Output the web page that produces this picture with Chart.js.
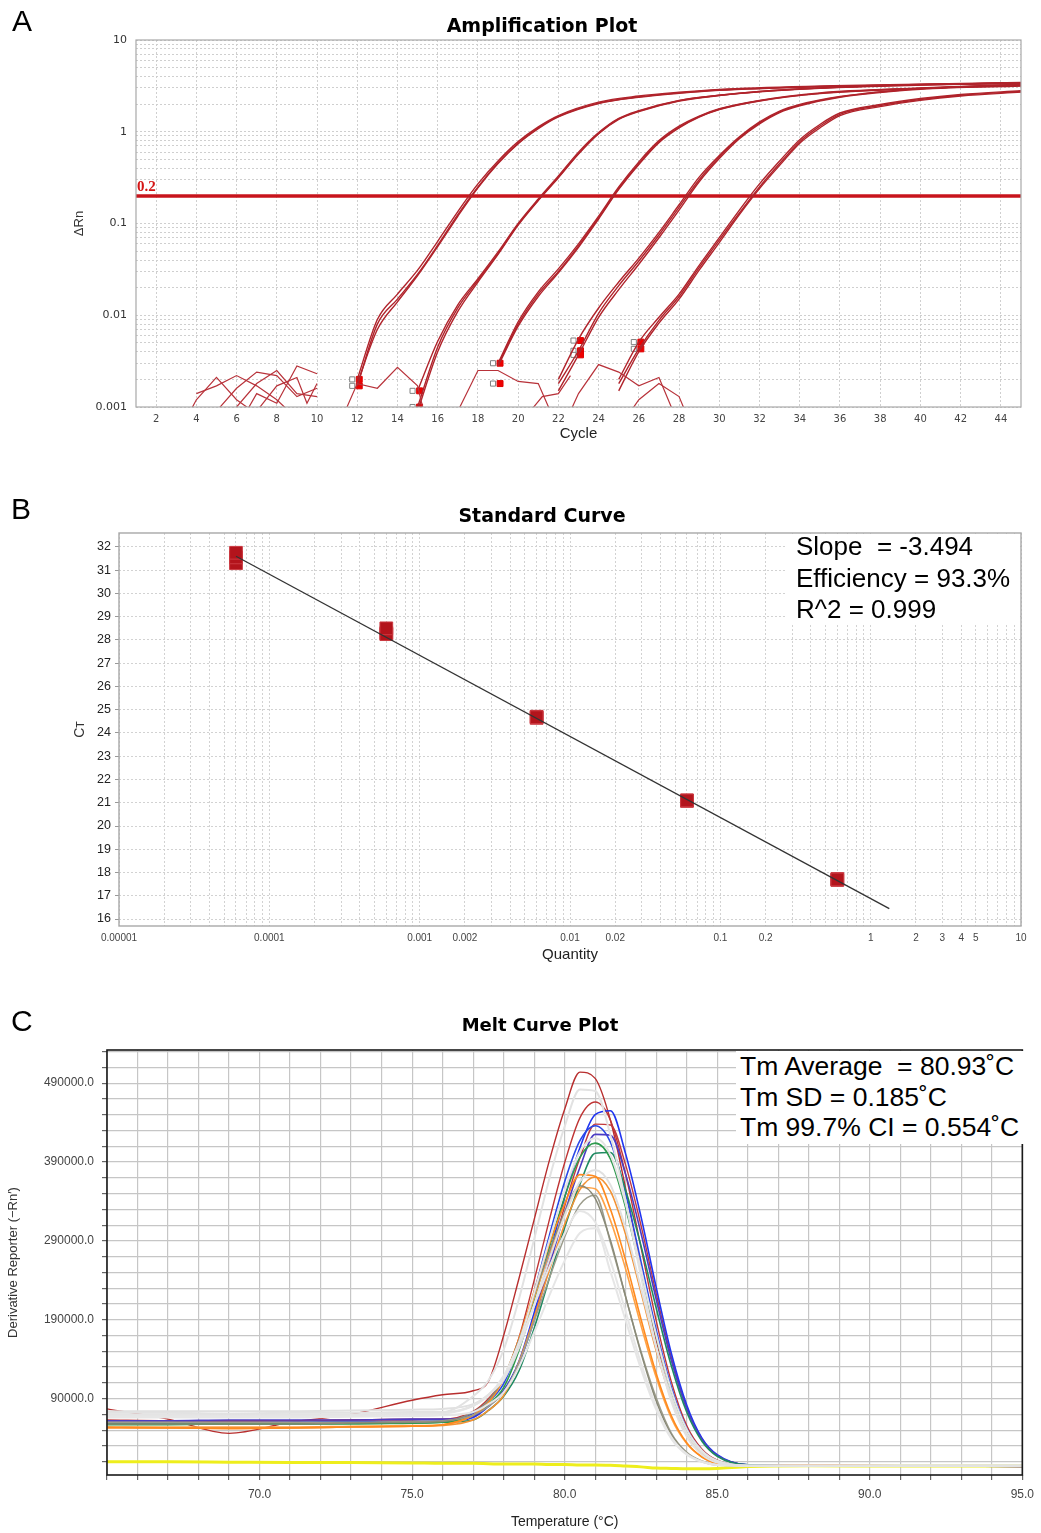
<!DOCTYPE html>
<html>
<head>
<meta charset="utf-8">
<script src="https://cdn.jsdelivr.net/npm/chart.js@4.4.1/dist/chart.umd.min.js"></script>
<style>
  html, body { margin: 0; padding: 0; background: #fff; }
  body { width: 1041px; height: 1533px; position: relative; overflow: hidden; font-family: "Liberation Sans", Arial, sans-serif; }
  canvas { position: absolute; left: 0; }
  .abs { position: absolute; z-index: 2; }
  .letter { font-size: 30px; line-height: 30px; color: #000; }
  .title { font-family: "DejaVu Sans", Verdana, sans-serif; font-weight: bold; font-size: 19px; line-height: 22px; width: 400px; text-align: center; color: #000; }
  .box { background: #fff; }
  .stats { white-space: pre; color: #000; }
</style>
</head>
<body>
<canvas id="ampCanvas" width="1041" height="450" style="top:0"></canvas>
<canvas id="stdCanvas" width="1041" height="500" style="top:470px"></canvas>
<canvas id="meltCanvas" width="1041" height="543" style="top:990px"></canvas>

<div class="abs letter" style="left:12px; top:6px">A</div>
<div class="abs letter" style="left:11px; top:494px">B</div>
<div class="abs letter" style="left:11px; top:1006px">C</div>

<div class="abs title" style="left:342px; top:14px">Amplification Plot</div>
<div class="abs title" style="left:342px; top:504px">Standard Curve</div>
<div class="abs title" style="left:340px; top:1014px; font-size:18px">Melt Curve Plot</div>

<div class="abs box" style="left:787px; top:534px; width:233px; height:89px"></div>
<div class="abs stats" style="left:796px; top:531px; font-size:26px; line-height:31.5px">Slope  = -3.494
Efficiency = 93.3%
R^2 = 0.999</div>

<div class="abs box" style="left:736px; top:1051px; width:291px; height:93px"></div>
<div class="abs stats" style="left:740px; top:1051px; font-size:26.5px; line-height:30.6px">Tm Average  = 80.93˚C
Tm SD = 0.185˚C
Tm 99.7% CI = 0.554˚C</div>

<script>
// ---------- A: amplification plot ----------
const threshold = 0.2;
const ampYLabels = [0.001, 0.01, 0.1, 1, 10];
const cycleTicks = [2, 4, 6, 8, 10, 12, 14, 16, 18, 20, 22, 24, 26, 28, 30, 32, 34, 36, 38, 40, 42, 44];

const cyclesG1 = [12, 13, 14, 15, 16, 17, 18, 19, 20, 21, 22, 24, 26, 28, 30, 35, 40, 45];
const dRnG1a = [0.0020, 0.0090, 0.017, 0.031, 0.064, 0.135, 0.27, 0.48, 0.78, 1.13, 1.5, 2.1, 2.45, 2.7, 2.9, 3.15, 3.3, 3.45];
const dRnG1b = [0.0017, 0.0080, 0.015, 0.028, 0.058, 0.125, 0.25, 0.46, 0.75, 1.1, 1.47, 2.05, 2.4, 2.65, 2.85, 3.1, 3.28, 3.4];
const dRnG1c = [0.0018, 0.0070, 0.014, 0.027, 0.056, 0.12, 0.245, 0.45, 0.74, 1.08, 1.45, 2.03, 2.38, 2.63, 2.83, 3.1, 3.27, 3.4];

const cyclesG2 = [15, 16, 17, 18, 19, 20, 21, 22, 23, 24, 25, 26, 28, 30, 32, 35, 40, 45];
const dRnG2a = [0.0015, 0.0052, 0.013, 0.025, 0.049, 0.10, 0.185, 0.33, 0.60, 0.98, 1.4, 1.7, 2.2, 2.5, 2.75, 3.0, 3.25, 3.4];
const dRnG2b = [0.0010, 0.0045, 0.012, 0.024, 0.047, 0.098, 0.18, 0.32, 0.58, 0.96, 1.38, 1.68, 2.18, 2.5, 2.75, 3.0, 3.25, 3.4];
const dRnG2c = [0.0009, 0.0040, 0.011, 0.023, 0.046, 0.096, 0.178, 0.315, 0.57, 0.95, 1.36, 1.66, 2.16, 2.48, 2.72, 2.98, 3.22, 3.38];

const cyclesG3 = [19, 20, 21, 22, 23, 24, 25, 26, 27, 28, 29, 30, 32, 35, 40, 45];
const dRnG3a = [0.0030, 0.0085, 0.018, 0.032, 0.060, 0.12, 0.25, 0.47, 0.80, 1.15, 1.48, 1.78, 2.2, 2.65, 3.0, 3.3];
const dRnG3b = [0.0029, 0.0080, 0.017, 0.030, 0.057, 0.115, 0.24, 0.45, 0.78, 1.12, 1.46, 1.76, 2.18, 2.62, 2.98, 3.28];
const dRnG3c = [0.0028, 0.0076, 0.016, 0.029, 0.055, 0.112, 0.235, 0.44, 0.76, 1.1, 1.44, 1.74, 2.16, 2.6, 2.96, 3.26];

const cyclesG4 = [22, 23, 24, 25, 26, 27, 28, 29, 30, 31, 32, 33, 34, 36, 40, 45];
const dRnG4a = [0.0020, 0.0055, 0.012, 0.023, 0.042, 0.08, 0.16, 0.32, 0.55, 0.88, 1.28, 1.68, 1.98, 2.42, 2.95, 3.2];
const dRnG4b = [0.0018, 0.0041, 0.0105, 0.021, 0.039, 0.075, 0.15, 0.30, 0.53, 0.86, 1.25, 1.65, 1.95, 2.4, 2.93, 3.18];
const dRnG4c = [0.0015, 0.0037, 0.0095, 0.019, 0.036, 0.07, 0.14, 0.285, 0.51, 0.84, 1.22, 1.62, 1.92, 2.38, 2.9, 3.15];

const cyclesG5 = [25, 26, 27, 28, 29, 30, 31, 32, 33, 34, 35, 36, 38, 40, 42, 45];
const dRnG5a = [0.0020, 0.0051, 0.0095, 0.017, 0.035, 0.07, 0.14, 0.27, 0.48, 0.82, 1.2, 1.6, 1.98, 2.3, 2.55, 2.8];
const dRnG5b = [0.0018, 0.0043, 0.0088, 0.016, 0.033, 0.066, 0.13, 0.25, 0.45, 0.78, 1.15, 1.55, 1.93, 2.25, 2.5, 2.75];
const dRnG5c = [0.0015, 0.0040, 0.0082, 0.015, 0.031, 0.062, 0.125, 0.24, 0.43, 0.75, 1.1, 1.5, 1.88, 2.2, 2.45, 2.7];

// baseline-end markers
const markCycles = [12.1, 12.1, 15.1, 15.1, 19.1, 19.1, 23.1, 23.1, 23.1, 26.1, 26.1];
const markValues = [0.0020, 0.0017, 0.0015, 0.0010, 0.0030, 0.0018, 0.0053, 0.0041, 0.0037, 0.0051, 0.0043];

// background noise below the baseline
const noiseLines = [
  [[3.7, 0.0009], [4, 0.0012], [5, 0.0021], [6, 0.0012], [6.8, 0.0009]],
  [[4, 0.0014], [5, 0.0017], [6, 0.0022], [7, 0.0017], [8, 0.0012], [8.6, 0.0009]],
  [[5, 0.0009], [6, 0.0016], [7, 0.0024], [8, 0.0022], [9, 0.0013], [10, 0.0016]],
  [[6, 0.0010], [7, 0.0018], [8, 0.0025], [9, 0.0014], [10, 0.0013]],
  [[6.5, 0.0009], [7, 0.0014], [8, 0.0011], [9, 0.0028], [10, 0.0023]],
  [[7, 0.0009], [8, 0.0017], [9, 0.0021], [9.5, 0.0011], [10, 0.0018]],
  [[11.4, 0.0009], [12, 0.0018], [13, 0.0016], [14, 0.0027], [15, 0.0017], [15.3, 0.0009]],
  [[17, 0.0009], [18, 0.0025], [19, 0.0025], [20, 0.0019], [21, 0.0018], [21.6, 0.0009]],
  [[20.6, 0.0009], [21.2, 0.0013], [22, 0.0014], [22.6, 0.0022]],
  [[22.6, 0.0009], [23, 0.0014], [24, 0.0029], [25, 0.0024], [26, 0.0017], [27, 0.0021], [27.7, 0.0009]],
  [[25.6, 0.0009], [26, 0.0012], [27, 0.0018], [28, 0.0013], [28.3, 0.0009]]
];

// ---------- B: standard curve ----------
const qtyLabels = [0.00001, 0.0001, 0.001, 0.002, 0.01, 0.02, 0.1, 0.2, 1, 2, 3, 4, 5, 10];
const stdQty = [0.00006, 0.0006, 0.006, 0.06, 0.6];
const ctRep1 = [31.75, 28.5, 24.68, 21.1, 17.7];
const ctRep2 = [31.55, 28.25, 24.65, 21.08, 17.72];
const ctRep3 = [31.3, 28.3, 24.7, 21.1, 17.68];
const fitQty = [0.00006, 1.33];
const fitCt = [31.6, 16.45];

// ---------- C: melt curve ----------
const meltXLabels = [70, 75, 80, 85, 90, 95];
const meltYLabels = [90000, 190000, 290000, 390000, 490000];
const meltTemps = [65, 67, 69, 71, 73, 75, 76, 77, 77.5, 78, 78.5, 79, 79.5, 80, 80.5, 81, 81.5, 82, 82.5, 83, 83.5, 84, 84.5, 85, 86, 88, 91, 95];

const meltRedA = [77000, 64000, 46000, 60000, 70000, 88000, 95000, 100000, 112000, 170000, 242000, 317000, 392000, 457000, 504000, 496000, 443000, 356000, 256000, 163000, 90000, 44000, 20000, 9000, 5000, 6000, 5000, 4000];
const meltRedB = [62000, 62000, 61000, 62000, 63000, 64000, 64000, 74000, 90000, 115000, 167000, 240000, 317000, 389000, 446000, 466000, 443000, 374000, 282000, 189000, 111000, 56000, 26000, 12000, 5000, 5000, 5000, 5000];
const meltRedC = [63000, 62000, 62000, 62000, 63000, 63000, 64000, 68000, 81000, 100000, 136000, 194000, 264000, 334000, 395000, 438000, 437000, 386000, 310000, 223000, 142000, 79000, 39000, 18000, 6000, 5000, 5000, 5000];
const meltBlueA = [59000, 59000, 59000, 60000, 60000, 61000, 61000, 66000, 80000, 100000, 137000, 199000, 272000, 345000, 408000, 450000, 455000, 400000, 321000, 231000, 147000, 82000, 40000, 19000, 6000, 5000, 5000, 4000];
const meltBlueB = [60000, 60000, 60000, 60000, 61000, 61000, 62000, 71000, 86000, 109000, 158000, 225000, 297000, 365000, 417000, 436000, 415000, 350000, 264000, 177000, 104000, 52000, 24000, 11000, 5000, 5000, 5000, 5000];
const meltBlueC = [62000, 62000, 63000, 63000, 63000, 64000, 64000, 68000, 81000, 99000, 134000, 190000, 258000, 325000, 383000, 425000, 424000, 374000, 300000, 216000, 138000, 77000, 38000, 18000, 6000, 5000, 5000, 5000];
const meltGreenA = [57000, 57000, 58000, 58000, 58000, 59000, 60000, 69000, 83000, 104000, 151000, 215000, 282000, 346000, 396000, 414000, 394000, 332000, 250000, 169000, 99000, 50000, 23000, 11000, 5000, 5000, 5000, 5000];
const meltGreenB = [58000, 58000, 58000, 58000, 59000, 59000, 60000, 63000, 75000, 93000, 125000, 179000, 243000, 307000, 362000, 401000, 402000, 354000, 284000, 205000, 131000, 73000, 36000, 17000, 6000, 5000, 5000, 5000];
const meltOrangeA = [53000, 53000, 52000, 53000, 54000, 55000, 57000, 69000, 85000, 116000, 166000, 226000, 286000, 337000, 374000, 372000, 330000, 265000, 191000, 122000, 68000, 34000, 16000, 8000, 5000, 6000, 5000, 5000];
const meltOrangeB = [54000, 53000, 53000, 53000, 54000, 55000, 56000, 63000, 75000, 94000, 136000, 193000, 253000, 311000, 355000, 371000, 353000, 298000, 225000, 151000, 89000, 45000, 21000, 10000, 5000, 5000, 5000, 5000];
const meltOrangeC = [54000, 54000, 54000, 54000, 55000, 56000, 57000, 69000, 85000, 114000, 161000, 218000, 274000, 323000, 358000, 356000, 316000, 254000, 183000, 117000, 65000, 33000, 16000, 8000, 5000, 5000, 5000, 5000];
const meltOliveA = [58000, 58000, 58000, 58000, 59000, 60000, 61000, 73000, 88000, 117000, 164000, 221000, 277000, 326000, 360000, 344000, 291000, 219000, 148000, 87000, 44000, 21000, 10000, 6000, 5000, 5000, 5000, 5000];
const meltOliveB = [60000, 60000, 60000, 60000, 60000, 61000, 62000, 69000, 80000, 98000, 135000, 188000, 243000, 295000, 336000, 348000, 288000, 219000, 150000, 91000, 46000, 22000, 11000, 6000, 5000, 5000, 5000, 5000];
const meltGray1 = [72000, 72000, 71000, 72000, 72000, 73000, 73000, 93000, 113000, 152000, 216000, 292000, 369000, 435000, 482000, 480000, 424000, 340000, 245000, 156000, 86000, 42000, 19000, 9000, 5000, 5000, 5000, 5000];
const meltGray2 = [70000, 70000, 70000, 70000, 70000, 71000, 72000, 81000, 95000, 116000, 161000, 224000, 291000, 354000, 403000, 420000, 399000, 337000, 254000, 171000, 100000, 51000, 24000, 11000, 5000, 5000, 5000, 5000];
const meltGray3 = [68000, 68000, 68000, 68000, 69000, 70000, 71000, 81000, 94000, 119000, 160000, 208000, 257000, 299000, 328000, 314000, 265000, 200000, 135000, 80000, 41000, 20000, 10000, 6000, 5000, 5000, 5000, 5000];
const meltGray4 = [66000, 66000, 66000, 66000, 67000, 68000, 69000, 73000, 83000, 98000, 130000, 174000, 221000, 265000, 300000, 306000, 251000, 189000, 128000, 76000, 39000, 19000, 10000, 6000, 5000, 5000, 5000, 5000];
const meltGray5 = [74000, 74000, 74000, 74000, 75000, 76000, 77000, 83000, 95000, 114000, 154000, 209000, 267000, 322000, 365000, 380000, 361000, 305000, 230000, 155000, 91000, 46000, 22000, 11000, 5000, 5000, 5000, 5000];
const meltNtc = [10000, 10000, 9500, 9000, 9000, 8500, 8000, 8000, 7500, 7000, 7000, 7000, 6500, 6500, 6000, 6000, 5500, 4500, 3500, 2000, 1500, 1000, 1000, 1500, 4000, 5000, 4500, 4500];

Chart.defaults.font.family = '"Liberation Sans", Arial, sans-serif';
Chart.defaults.color = '#333';
Chart.defaults.animation = false;

// draws the box around the plot area
const framePlugin = {
  id: 'frame',
  afterDraw(chart, args, opts) {
    const { ctx, chartArea: a } = chart;
    ctx.save();
    ctx.strokeStyle = opts.color;
    ctx.lineWidth = opts.width;
    ctx.strokeRect(a.left, a.top, a.right - a.left, a.bottom - a.top);
    ctx.restore();
  }
};

const thresholdLabel = {
  id: 'thresholdLabel',
  afterDatasetsDraw(chart) {
    const { ctx, chartArea, scales } = chart;
    const y = scales.y.getPixelForValue(threshold);
    ctx.save();
    ctx.fillStyle = '#d41515';
    ctx.font = 'bold 15px "Liberation Serif", serif';
    ctx.textBaseline = 'bottom';
    ctx.fillText(String(threshold), chartArea.left + 1, y - 1);
    ctx.restore();
  }
};

function pts(xs, ys) {
  return xs.map((x, i) => ({ x: x, y: ys[i] }));
}

// ----- chart A -----
const ampCurveColor = '#b0232b';
const ampDatasets = [];
noiseLines.forEach(line => {
  ampDatasets.push({
    data: line.map(p => ({ x: p[0], y: p[1] })),
    borderColor: '#b8323a', borderWidth: 1.2, pointRadius: 0, tension: 0
  });
});
[
  [cyclesG1, dRnG1a], [cyclesG1, dRnG1b], [cyclesG1, dRnG1c],
  [cyclesG2, dRnG2a], [cyclesG2, dRnG2b], [cyclesG2, dRnG2c],
  [cyclesG3, dRnG3a], [cyclesG3, dRnG3b], [cyclesG3, dRnG3c],
  [cyclesG4, dRnG4a], [cyclesG4, dRnG4b], [cyclesG4, dRnG4c],
  [cyclesG5, dRnG5a], [cyclesG5, dRnG5b], [cyclesG5, dRnG5c]
].forEach(c => {
  ampDatasets.push({
    data: pts(c[0], c[1]),
    borderColor: ampCurveColor, borderWidth: 1.4, pointRadius: 0,
    cubicInterpolationMode: 'monotone'
  });
});
ampDatasets.push({
  data: [{ x: 1, y: threshold }, { x: 45, y: threshold }],
  borderColor: '#c8141c', borderWidth: 3.5, pointRadius: 0
});
ampDatasets.push({
  data: pts(markCycles.map(c => c - 0.35), markValues),
  showLine: false, pointStyle: 'rect', pointRadius: 3.6,
  pointBackgroundColor: '#ffffff', pointBorderColor: '#808080', pointBorderWidth: 1
});
ampDatasets.push({
  data: pts(markCycles, markValues),
  showLine: false, pointStyle: 'rect', pointRadius: 4.2,
  pointBackgroundColor: '#ee0000', pointBorderColor: '#e00000', pointBorderWidth: 1
});

new Chart(document.getElementById('ampCanvas'), {
  type: 'line',
  data: { datasets: ampDatasets },
  options: {
    responsive: false,
    layout: { padding: { left: 60, right: 20, top: 40, bottom: 0 } },
    plugins: {
      legend: { display: false }, tooltip: { enabled: false }, title: { display: false },
      frame: { color: '#a8a8a8', width: 1.2 }
    },
    scales: {
      x: {
        type: 'linear', min: 1, max: 45,
        afterBuildTicks: s => { s.ticks = cycleTicks.map(v => ({ value: v })); },
        afterFit: s => { s.height = 43; },
        grid: { color: '#cfcfcf', lineWidth: 1, drawTicks: false },
        border: { display: false, dash: [2, 2] },
        ticks: { padding: 6, autoSkip: false, maxRotation: 0, color: '#444',
                 font: { family: '"DejaVu Sans", Verdana, sans-serif', size: 10 } },
        title: { display: true, text: 'Cycle', color: '#222', font: { size: 15 }, padding: { top: 0, bottom: 7 } }
      },
      y: {
        type: 'logarithmic', min: 0.001, max: 10,
        afterBuildTicks: s => {
          const t = [];
          for (let k = -3; k <= 0; k++) {
            for (let m = 1; m <= 9; m++) t.push(Number((m * Math.pow(10, k)).toPrecision(3)));
          }
          t.push(10);
          s.ticks = t.map(v => ({ value: v }));
        },
        afterFit: s => { s.width = 76; },
        grid: { color: '#cfcfcf', lineWidth: 1, drawTicks: false },
        border: { display: false, dash: [2, 2] },
        ticks: { padding: 9, autoSkip: false, color: '#333',
                 font: { family: '"DejaVu Sans", Verdana, sans-serif', size: 11 },
                 callback: v => ampYLabels.includes(v) ? String(v) : '' },
        title: { display: true, text: 'ΔRn', color: '#333', font: { size: 13 }, padding: { top: 12, bottom: 0 } }
      }
    }
  },
  plugins: [framePlugin, thresholdLabel]
});

// ----- chart B -----
new Chart(document.getElementById('stdCanvas'), {
  type: 'line',
  data: {
    datasets: [
      { data: pts(fitQty, fitCt), borderColor: '#333333', borderWidth: 1.3, pointRadius: 0 },
      { data: pts(stdQty, ctRep1), showLine: false, pointStyle: 'rect', pointRadius: 9,
        pointBackgroundColor: '#b3141c', pointBorderColor: '#cc3a42', pointBorderWidth: 1 },
      { data: pts(stdQty, ctRep2), showLine: false, pointStyle: 'rect', pointRadius: 9,
        pointBackgroundColor: '#b3141c', pointBorderColor: '#cc3a42', pointBorderWidth: 1 },
      { data: pts(stdQty, ctRep3), showLine: false, pointStyle: 'rect', pointRadius: 9,
        pointBackgroundColor: '#b3141c', pointBorderColor: '#cc3a42', pointBorderWidth: 1 }
    ]
  },
  options: {
    responsive: false,
    layout: { padding: { left: 60, right: 20, top: 63, bottom: 0 } },
    plugins: {
      legend: { display: false }, tooltip: { enabled: false }, title: { display: false },
      frame: { color: '#a8a8a8', width: 1.4 }
    },
    scales: {
      x: {
        type: 'logarithmic', min: 0.00001, max: 10,
        afterBuildTicks: s => {
          const t = [];
          for (let k = -5; k <= 0; k++) {
            for (let m = 1; m <= 9; m++) t.push(Number((m * Math.pow(10, k)).toPrecision(3)));
          }
          t.push(10);
          s.ticks = t.map(v => ({ value: v }));
        },
        afterFit: s => { s.height = 44; },
        grid: { color: '#d2d2d2', lineWidth: 1, drawTicks: false },
        border: { display: false, dash: [2, 2] },
        ticks: { padding: 6, autoSkip: false, maxRotation: 0, color: '#444', font: { size: 10 },
                 callback: v => qtyLabels.includes(v) ? String(v) : '' },
        title: { display: true, text: 'Quantity', color: '#222', font: { size: 15 }, padding: { top: 0, bottom: 6 } }
      },
      y: {
        type: 'linear', min: 15.7, max: 32.6,
        afterBuildTicks: s => {
          const t = [];
          for (let v = 16; v <= 32; v++) t.push(v);
          s.ticks = t.map(v => ({ value: v }));
        },
        afterFit: s => { s.width = 59; },
        grid: { color: '#d2d2d2', lineWidth: 1, drawTicks: true, tickLength: 4, tickColor: '#999' },
        border: { display: false, dash: [2, 2] },
        ticks: { padding: 4, autoSkip: false, color: '#222', font: { size: 12.5 } },
        title: { display: true, text: 'Cᴛ', color: '#333', font: { size: 14 }, padding: { top: 12, bottom: 0 } }
      }
    }
  },
  plugins: [framePlugin]
});

// ----- chart C -----
const meltSeries = [
  [meltGray1, '#e2e2e2', 2], [meltGray2, '#e4e4e4', 2], [meltGray3, '#e6e6e6', 2],
  [meltGray4, '#e6e6e6', 2], [meltGray5, '#e0e0e0', 2],
  [meltOliveA, '#8a8a78', 1.5], [meltOliveB, '#9c9c8c', 1.5],
  [meltOrangeA, '#ff8a1e', 1.6], [meltOrangeB, '#f39234', 1.6], [meltOrangeC, '#ffa347', 1.6],
  [meltGreenA, '#2e9a4e', 1.6], [meltGreenB, '#1f8a62', 1.6],
  [meltBlueC, '#4b3cc4', 1.6], [meltBlueB, '#2a48e6', 1.6], [meltBlueA, '#2035f0', 1.6],
  [meltRedC, '#c2393d', 1.4], [meltRedB, '#bf3434', 1.4], [meltRedA, '#b82e2e', 1.4],
  [meltNtc, '#eeee1c', 3]
];

new Chart(document.getElementById('meltCanvas'), {
  type: 'line',
  data: {
    datasets: meltSeries.map(s => ({
      data: pts(meltTemps, s[0]), borderColor: s[1], borderWidth: s[2],
      pointRadius: 0, cubicInterpolationMode: 'monotone'
    }))
  },
  options: {
    responsive: false,
    layout: { padding: { left: 0, right: 13, top: 60, bottom: 0 } },
    plugins: {
      legend: { display: false }, tooltip: { enabled: false }, title: { display: false },
      frame: { color: '#1a1a1a', width: 1.6 }
    },
    scales: {
      x: {
        type: 'linear', min: 65, max: 95,
        afterBuildTicks: s => {
          const t = [];
          for (let v = 65; v <= 95; v++) t.push(v);
          s.ticks = t.map(v => ({ value: v }));
        },
        afterFit: s => { s.height = 58; },
        grid: { color: '#c6c6c6', lineWidth: 1.2, tickLength: 5, tickColor: '#666' },
        border: { display: false },
        ticks: { padding: 7, autoSkip: false, maxRotation: 0, color: '#444', font: { size: 12 },
                 callback: v => meltXLabels.includes(v) ? v.toFixed(1) : '' },
        title: { display: true, text: 'Temperature (°C)', color: '#222', font: { size: 14 }, padding: { top: 0, bottom: 2 } }
      },
      y: {
        type: 'linear', min: -6800, max: 532000,
        afterBuildTicks: s => {
          const t = [];
          for (let v = 10000; v <= 530000; v += 20000) t.push(v);
          s.ticks = t.map(v => ({ value: v }));
        },
        afterFit: s => { s.width = 107; },
        grid: { color: '#c6c6c6', lineWidth: 1.2, tickLength: 5, tickColor: '#666' },
        border: { display: false },
        ticks: { padding: 8, autoSkip: false, color: '#444', font: { size: 12 },
                 callback: v => meltYLabels.includes(v) ? v.toFixed(1) : '' },
        title: { display: true, text: 'Derivative Reporter (−Rn′)', color: '#333', font: { size: 13 }, padding: { top: 6, bottom: 0 } }
      }
    }
  },
  plugins: [framePlugin]
});
</script>
</body>
</html>
